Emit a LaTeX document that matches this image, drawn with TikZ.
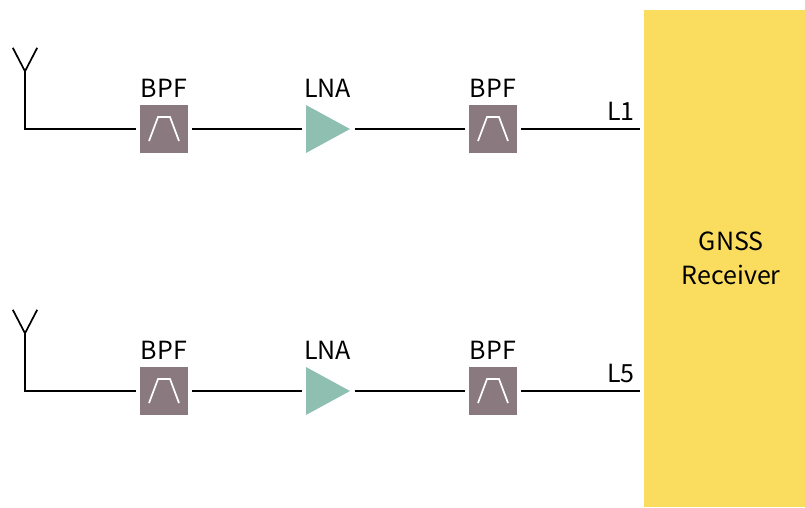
\documentclass[tikz,border=0pt]{standalone}
\usepackage{fontspec}
\setmainfont{Noto Sans CJK JP}
\usepackage{xcolor}
\usetikzlibrary{matrix,positioning,shapes.geometric}
\definecolor{filtergray}{RGB}{138,121,126}
\definecolor{ampgreen}{RGB}{143,191,176}
\definecolor{rxyellow}{RGB}{250,221,94}

\begin{document}
\begin{tikzpicture} [x=1pt, y=1pt, font=\fontsize{25}{34}\selectfont,
    wire/.style={line width=1.7pt},
    bpf/.style={fill=filtergray,minimum size=48pt,inner sep=0pt,
      path picture={
        \draw[white,line width=1.7pt]
        ([shift={(-15,-12)}]path picture bounding box.center)
        -- ([shift={(-6,12)}]path picture bounding box.center)
        -- ([shift={(6,12)}]path picture bounding box.center)
        -- ([shift={(15,-12)}]path picture bounding box.center);
      }},
    lna/.style={isosceles triangle,fill=ampgreen,inner sep=0pt,
      isosceles triangle stretches,minimum width=48pt,minimum height=44pt,anchor=lower side},
    pin/.style={inner sep=0pt,minimum size=0pt,anchor=center},
    tag/.style={inner sep=0pt,text depth=0pt}
  ]
  \useasboundingbox (0,0) rectangle (805,507);
  \node[fill=rxyellow,minimum width=161pt,minimum height=497pt,inner sep=0pt,
    anchor=south east] (rx) at (805,0) {};
  \node[align=center,inner sep=0pt,right=38pt of rx.west] (rxtext) {GNSS\\Receiver};
  \matrix (m) [
    matrix of nodes
    , nodes in empty cells
    , row sep=214pt
    , nodes={anchor=center}
  ] at (332.5,247) {
    |[pin]| &[115pt] |[bpf]| &[118pt] |[lna]| &[119pt] |[bpf]| &[123pt] |[pin]| \\
    |[pin]| &[115pt] |[bpf]| &[118pt] |[lna]| &[119pt] |[bpf]| &[123pt] |[pin]| \\
  };
  % antennas
  \coordinate[above=57.5pt of m-1-1] (aerial1);
  \coordinate[above left=81pt and 12pt of m-1-1] (aerial1l);
  \coordinate[above right=81pt and 12pt of m-1-1] (aerial1r);
  \coordinate[above=57.5pt of m-2-1] (aerial2);
  \coordinate[above left=81pt and 12pt of m-2-1] (aerial2l);
  \coordinate[above right=81pt and 12pt of m-2-1] (aerial2r);
  \draw[wire] (aerial1l) -- (aerial1) -- (aerial1r);
  \draw[wire] (aerial2l) -- (aerial2) -- (aerial2r);
  \draw[wire,shorten >=4pt] (aerial1) -- (m-1-1.center) -- (m-1-2);
  \draw[wire,shorten >=4pt] (aerial2) -- (m-2-1.center) -- (m-2-2);
  % wires
  \path[wire,shorten <=4pt,shorten >=4pt]
  (m-1-2) edge (m-1-3.lower side)
  (m-1-3.apex) edge (m-1-4)
  (m-2-2) edge (m-2-3.lower side)
  (m-2-3.apex) edge (m-2-4)
  ;
  \path[wire,shorten <=4pt]
  (m-1-4) edge (m-1-5)
  (m-2-4) edge (m-2-5)
  ;
  % labels
  \node[tag,above=7pt of m-1-2] (t12) {BPF};
  \node[tag,above right=7pt and -2pt of m-1-3.left corner] (t13) {LNA};
  \node[tag,above=7pt of m-1-4] (t14) {BPF};
  \node[tag,above left=8pt and 5pt of m-1-5] (t15) {L1};
  \node[tag,above=7pt of m-2-2] (t22) {BPF};
  \node[tag,above right=7pt and -2pt of m-2-3.left corner] (t23) {LNA};
  \node[tag,above=7pt of m-2-4] (t24) {BPF};
  \node[tag,above left=8pt and 5pt of m-2-5] (t25) {L5};
\end{tikzpicture}
\end{document}
